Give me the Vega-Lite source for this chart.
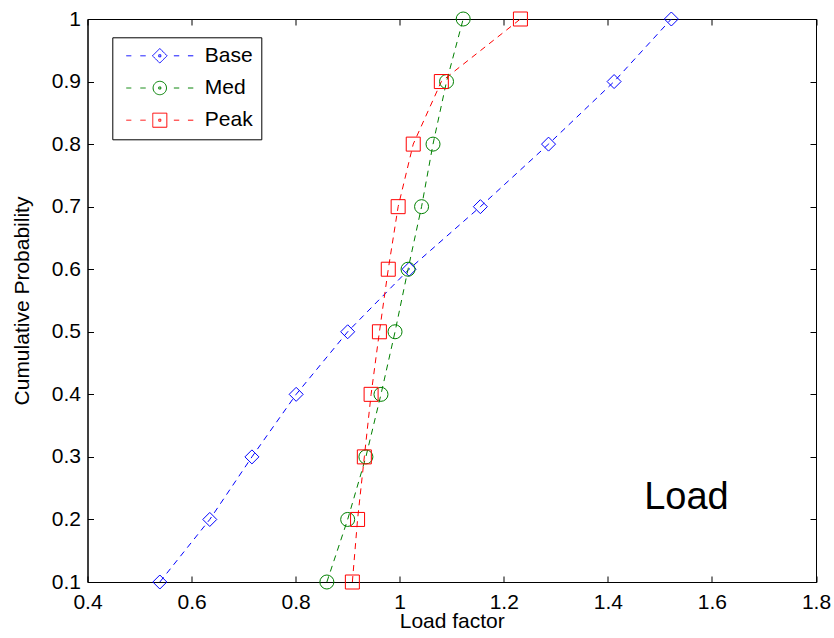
{
  "$schema": "https://vega.github.io/schema/vega-lite/v6.json",
  "width": 728.5,
  "height": 563,
  "autosize": "none",
  "padding": {"left": 87.5, "top": 19, "right": 18, "bottom": 56},
  "background": "white",
  "config": {
    "view": {"stroke": "black", "strokeWidth": 1},
    "font": "Liberation Sans",
    "axis": {
      "grid": false,
      "domainColor": "black",
      "domainWidth": 1,
      "tickColor": "black",
      "tickWidth": 1,
      "tickSize": -6,
      "labelColor": "black",
      "labelFont": "Liberation Sans",
      "labelFontSize": 21,
      "labelFlush": false,
      "titleFont": "Liberation Sans",
      "titleFontSize": 21,
      "titleFontWeight": "normal",
      "titleColor": "black",
      "format": "~g"
    }
  },
  "data": {
    "values": [
      {"series": "Base", "p": 0.1, "x": 0.539},
      {"series": "Base", "p": 0.2, "x": 0.635},
      {"series": "Base", "p": 0.3, "x": 0.716},
      {"series": "Base", "p": 0.4, "x": 0.801},
      {"series": "Base", "p": 0.5, "x": 0.900},
      {"series": "Base", "p": 0.6, "x": 1.018},
      {"series": "Base", "p": 0.7, "x": 1.155},
      {"series": "Base", "p": 0.8, "x": 1.286},
      {"series": "Base", "p": 0.9, "x": 1.412},
      {"series": "Base", "p": 1.0, "x": 1.522},
      {"series": "Med", "p": 0.1, "x": 0.860},
      {"series": "Med", "p": 0.2, "x": 0.900},
      {"series": "Med", "p": 0.3, "x": 0.935},
      {"series": "Med", "p": 0.4, "x": 0.964},
      {"series": "Med", "p": 0.5, "x": 0.991},
      {"series": "Med", "p": 0.6, "x": 1.016},
      {"series": "Med", "p": 0.7, "x": 1.042},
      {"series": "Med", "p": 0.8, "x": 1.064},
      {"series": "Med", "p": 0.9, "x": 1.090},
      {"series": "Med", "p": 1.0, "x": 1.122},
      {"series": "Peak", "p": 0.1, "x": 0.909},
      {"series": "Peak", "p": 0.2, "x": 0.919},
      {"series": "Peak", "p": 0.3, "x": 0.932},
      {"series": "Peak", "p": 0.4, "x": 0.945},
      {"series": "Peak", "p": 0.5, "x": 0.961},
      {"series": "Peak", "p": 0.6, "x": 0.978},
      {"series": "Peak", "p": 0.7, "x": 0.997},
      {"series": "Peak", "p": 0.8, "x": 1.026},
      {"series": "Peak", "p": 0.9, "x": 1.080},
      {"series": "Peak", "p": 1.0, "x": 1.232}
    ]
  },
  "layer": [
    {
      "mark": {"type": "line", "strokeDash": [6, 5], "strokeWidth": 1, "clip": false},
      "encoding": {
        "x": {
          "field": "x", "type": "quantitative",
          "scale": {"domain": [0.4, 1.8], "nice": false, "zero": false},
          "axis": {"orient": "bottom", "values": [0.4, 0.6, 0.8, 1, 1.2, 1.4, 1.6, 1.8], "title": "Load factor", "labelPadding": 15, "titlePadding": -2}
        },
        "y": {
          "field": "p", "type": "quantitative",
          "scale": {"domain": [0.1, 1], "nice": false, "zero": false},
          "axis": {"orient": "left", "values": [0.1, 0.2, 0.3, 0.4, 0.5, 0.6, 0.7, 0.8, 0.9, 1], "title": "Cumulative Probability", "labelPadding": 13, "titlePadding": 19}
        },
        "order": {"field": "p", "type": "quantitative"},
        "color": {
          "field": "series", "type": "nominal",
          "scale": {"domain": ["Base", "Med", "Peak"], "range": ["#0000ff", "#008000", "#ff0000"]},
          "legend": {
            "orient": "none",
            "legendX": 24.8,
            "legendY": 18.3,
            "title": null,
            "strokeColor": "black",
            "fillColor": "white",
            "padding": 8,
            "cornerRadius": 0,
            "labelFont": "Liberation Sans",
            "labelFontSize": 21,
            "labelColor": "black",
            "symbolSize": 4489,
            "symbolStrokeWidth": 1,
            "symbolOffset": 5.5,
            "labelOffset": 11,
            "clipHeight": 21,
            "rowPadding": 10.2,
            "encode": {
              "symbols": {
                "update": {
                  "shape": {"signal": "datum.value === 'Base' ? 'M-1,0L-0.85,0M-0.58,0L-0.42,0M0.42,0L0.58,0M0.84,0L1,0M0,-0.218L0.218,0L0,0.218L-0.218,0ZM-0.03,-0.03L0.03,-0.03L0.03,0.03L-0.03,0.03Z' : datum.value === 'Med' ? 'M-1,0L-0.85,0M-0.58,0L-0.42,0M0.42,0L0.58,0M0.84,0L1,0M-0.2,0A0.2,0.2,0,1,0,0.2,0A0.2,0.2,0,1,0,-0.2,0ZM-0.03,-0.03L0.03,-0.03L0.03,0.03L-0.03,0.03Z' : 'M-1,0L-0.85,0M-0.58,0L-0.42,0M0.42,0L0.58,0M0.84,0L1,0M-0.21,-0.21L0.21,-0.21L0.21,0.21L-0.21,0.21ZM-0.03,-0.03L0.03,-0.03L0.03,0.03L-0.03,0.03Z'"},
                  "size": {"value": 4489},
                  "strokeDash": {"value": [1, 0]},
                  "strokeWidth": {"value": 1},
                  "fill": {"value": "transparent"},
                  "opacity": {"value": 1}
                }
              }
            }
          }
        }
      }
    },
    {
      "mark": {"type": "point", "filled": false, "size": 196, "strokeWidth": 1, "opacity": 1, "clip": false},
      "encoding": {
        "x": {
          "field": "x", "type": "quantitative",
          "axis": {"orient": "top", "values": [0.4, 0.6, 0.8, 1, 1.2, 1.4, 1.6, 1.8], "labels": false, "title": null}
        },
        "y": {
          "field": "p", "type": "quantitative",
          "axis": {"orient": "right", "values": [0.1, 0.2, 0.3, 0.4, 0.5, 0.6, 0.7, 0.8, 0.9, 1], "labels": false, "title": null}
        },
        "color": {"field": "series", "type": "nominal"},
        "shape": {
          "field": "series", "type": "nominal",
          "scale": {"domain": ["Med", "Base", "Peak"], "range": ["circle", "diamond", "square"]},
          "legend": null
        }
      }
    },
    {
      "data": {"values": [{"label": "Load"}]},
      "mark": {"type": "text", "font": "Liberation Sans", "fontWeight": "normal", "fontSize": 38, "align": "center", "baseline": "alphabetic", "color": "black"},
      "encoding": {
        "text": {"field": "label", "type": "nominal"},
        "x": {"datum": 1.551, "type": "quantitative", "axis": null},
        "y": {"datum": 0.216, "type": "quantitative", "axis": null}
      }
    }
  ],
  "resolve": {"axis": {"x": "independent", "y": "independent"}}
}
